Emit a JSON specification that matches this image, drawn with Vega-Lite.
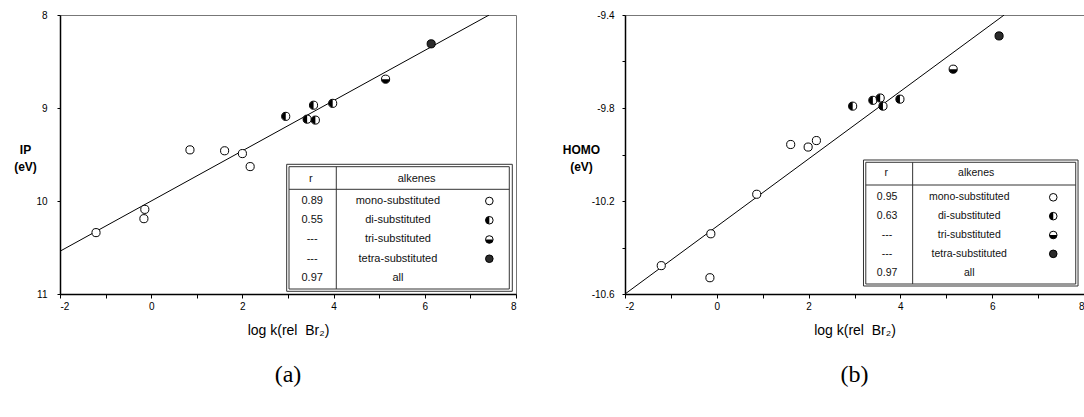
{
  "$schema": "https://vega.github.io/schema/vega-lite/v6.json",
  "padding": {"left": 13, "top": 9, "right": 0, "bottom": 0},
  "spacing": 109,
  "bounds": "flush",
  "config": {
    "view": {"stroke": "#777", "strokeWidth": 1},
    "font": "Liberation Sans",
    "axis": {"grid": false, "domainColor": "black", "domainWidth": 1.5, "tickColor": "black", "tickWidth": 1, "labelColor": "black", "labelFont": "Liberation Sans", "labelFontSize": 10, "titleFont": "Liberation Sans", "titleColor": "black"}
  },
  "hconcat": [
    {
      "width": 456,
      "height": 279,
      "title": {"text": "(a)", "orient": "bottom", "anchor": "middle", "font": "Liberation Serif", "fontSize": 24, "fontWeight": "normal", "color": "black", "offset": 26},
      "layer": [
        {
          "encoding": {
            "x": {"field": "x", "type": "quantitative", "scale": {"domain": [-2, 8], "nice": false, "zero": false},
              "axis": {"values": [-2, -1, 0, 1, 2, 3, 4, 5, 6, 7, 8], "format": "d", "labelExpr": "datum.value % 2 === 0 ? replace(datum.label, '\u2212', '-') : ''", "tickSize": 4, "labelPadding": 3, "title": "log k(rel\u00a0\u00a0Br\u2082)", "titleFontSize": 14, "titleFontWeight": "normal", "titlePadding": 12}},
            "y": {"field": "y", "type": "quantitative", "scale": {"domain": [8, 11], "reverse": true, "nice": false, "zero": false},
              "axis": {"values": [8, 8.5, 9, 9.5, 10, 10.5, 11], "format": "d", "labelExpr": "datum.value % 1 === 0 ? datum.label : ''", "tickSize": 3, "labelPadding": 10, "title": ["IP", "(eV)"], "titleAngle": 0, "titleAlign": "center", "titleBaseline": "middle", "titleX": -35, "titleY": 134, "titleFontSize": 12, "titleFontWeight": "bold", "titleLineHeight": 17}}
          },
          "layer": [
            {
              "data": {"values": [{"x": -2, "y": 10.54}, {"x": 7.41, "y": 8.0}]},
              "mark": {"type": "line", "color": "black", "strokeWidth": 1, "clip": true}
            },
            {
              "data": {"values": [
                {"x": -1.21, "y": 10.34, "cls": "mono"},
                {"x": -0.14, "y": 10.09, "cls": "mono"},
                {"x": -0.16, "y": 10.19, "cls": "mono"},
                {"x": 0.85, "y": 9.45, "cls": "mono"},
                {"x": 1.61, "y": 9.46, "cls": "mono"},
                {"x": 2.0, "y": 9.49, "cls": "mono"},
                {"x": 2.17, "y": 9.63, "cls": "mono"},
                {"x": 2.95, "y": 9.09, "cls": "di"},
                {"x": 3.42, "y": 9.12, "cls": "di"},
                {"x": 3.6, "y": 9.13, "cls": "di"},
                {"x": 3.56, "y": 8.97, "cls": "di"},
                {"x": 3.98, "y": 8.95, "cls": "di"},
                {"x": 5.14, "y": 8.69, "cls": "tri"},
                {"x": 6.14, "y": 8.31, "cls": "tetra"}
              ]},
              "layer": [
                {
                  "mark": {"type": "point", "shape": "circle", "filled": true, "stroke": "black", "strokeWidth": 1, "size": 66, "opacity": 1},
                  "encoding": {"fill": {"field": "cls", "type": "nominal", "scale": {"domain": ["mono", "di", "tri", "tetra"], "range": ["white", "white", "white", "#2b2b2b"]}, "legend": null}}
                },
                {
                  "transform": [{"filter": "datum.cls === 'di' || datum.cls === 'tri'"}],
                  "mark": {"type": "point", "filled": true, "color": "black", "strokeWidth": 0, "size": 66, "opacity": 1},
                  "encoding": {"shape": {"field": "cls", "type": "nominal", "scale": {"domain": ["di", "tri"], "range": ["M0,-1A1,1,0,0,0,0,1Z", "M-1,0A1,1,0,0,0,1,0Z"]}, "legend": null}}
                }
              ]
            }
          ]
        },
        {
          "data": {"values": [
            {"row": 1, "r": "0.89", "label": "mono-substituted", "cls": "mono"},
            {"row": 2, "r": "0.55", "label": "di-substituted", "cls": "di"},
            {"row": 3, "r": "---", "label": "tri-substituted", "cls": "tri"},
            {"row": 4, "r": "---", "label": "tetra-substituted", "cls": "tetra"},
            {"row": 5, "r": "0.97", "label": "all"}
          ]},
          "encoding": {
            "y": {"field": "row", "type": "quantitative", "scale": {"domain": [-8.6623, 5.8312], "reverse": true, "nice": false, "zero": false}, "axis": null}
          },
          "layer": [
            {
              "transform": [{"filter": "datum.row === 1"}],
              "mark": {"type": "rect", "fill": "white", "stroke": "#333", "strokeWidth": 1},
              "encoding": {
                "x": {"datum": 2.971, "type": "quantitative", "scale": {"domain": [-2, 8], "nice": false, "zero": false}, "axis": null},
                "x2": {"datum": 7.919},
                "y": {"datum": -0.9065, "type": "quantitative"},
                "y2": {"datum": 5.691}
              }
            },
            {
              "transform": [{"filter": "datum.row === 1"}],
              "mark": {"type": "rect", "fillOpacity": 0, "stroke": "#333", "strokeWidth": 1},
              "encoding": {
                "x": {"datum": 3.022, "type": "quantitative", "axis": null},
                "x2": {"datum": 7.853},
                "y": {"datum": -0.7818, "type": "quantitative"},
                "y2": {"datum": 5.572}
              }
            },
            {
              "transform": [{"filter": "datum.row === 1"}],
              "mark": {"type": "rule", "color": "#333", "strokeWidth": 1},
              "encoding": {
                "x": {"datum": 3.022, "type": "quantitative", "axis": null},
                "x2": {"datum": 7.853},
                "y": {"datum": 0.3922, "type": "quantitative"}
              }
            },
            {
              "transform": [{"filter": "datum.row === 1"}],
              "mark": {"type": "rule", "color": "#333", "strokeWidth": 1},
              "encoding": {
                "x": {"datum": 4.059, "type": "quantitative", "axis": null},
                "y": {"datum": -0.7818, "type": "quantitative"},
                "y2": {"datum": 5.572}
              }
            },
            {
              "transform": [{"filter": "datum.row === 1"}],
              "mark": {"type": "text", "text": "r", "fontSize": 11, "align": "center", "baseline": "middle", "color": "#111"},
              "encoding": {"x": {"datum": 3.5, "type": "quantitative", "axis": null}, "y": {"datum": -0.143, "type": "quantitative"}}
            },
            {
              "transform": [{"filter": "datum.row === 1"}],
              "mark": {"type": "text", "text": "alkenes", "fontSize": 11, "align": "center", "baseline": "middle", "color": "#111"},
              "encoding": {"x": {"datum": 5.82, "type": "quantitative", "axis": null}, "y": {"datum": -0.143, "type": "quantitative"}}
            },
            {
              "mark": {"type": "text", "fontSize": 11, "align": "center", "baseline": "middle", "color": "#111"},
              "encoding": {"x": {"datum": 3.53, "type": "quantitative", "axis": null}, "text": {"field": "r"}}
            },
            {
              "mark": {"type": "text", "fontSize": 11, "align": "center", "baseline": "middle", "color": "#111"},
              "encoding": {"x": {"datum": 5.41, "type": "quantitative", "axis": null}, "text": {"field": "label"}}
            },
            {
              "transform": [{"filter": "isValid(datum.cls)"}],
              "mark": {"type": "point", "shape": "circle", "filled": true, "stroke": "black", "strokeWidth": 1, "size": 58, "opacity": 1},
              "encoding": {"x": {"datum": 7.415, "type": "quantitative", "axis": null}, "fill": {"field": "cls", "type": "nominal", "legend": null}}
            },
            {
              "transform": [{"filter": "datum.cls === 'di' || datum.cls === 'tri'"}],
              "mark": {"type": "point", "filled": true, "color": "black", "strokeWidth": 0, "size": 58, "opacity": 1},
              "encoding": {"x": {"datum": 7.415, "type": "quantitative", "axis": null}, "shape": {"field": "cls", "type": "nominal", "legend": null}}
            }
          ]
        }
      ],
      "resolve": {"scale": {"y": "independent"}, "axis": {"x": "independent"}}
    },
    {
      "width": 459,
      "height": 279,
      "title": {"text": "(b)", "orient": "bottom", "anchor": "middle", "font": "Liberation Serif", "fontSize": 24, "fontWeight": "normal", "color": "black", "offset": 26},
      "layer": [
        {
          "encoding": {
            "x": {"field": "x", "type": "quantitative", "scale": {"domain": [-2, 8], "nice": false, "zero": false},
              "axis": {"values": [-2, -1, 0, 1, 2, 3, 4, 5, 6, 7, 8], "format": "d", "labelExpr": "datum.value % 2 === 0 ? replace(datum.label, '\u2212', '-') : ''", "tickSize": 4, "labelPadding": 3, "title": "log k(rel\u00a0\u00a0Br\u2082)", "titleFontSize": 14, "titleFontWeight": "normal", "titlePadding": 12}},
            "y": {"field": "y", "type": "quantitative", "scale": {"domain": [-10.6, -9.4], "nice": false, "zero": false},
              "axis": {"values": [-10.6, -10.4, -10.2, -10.0, -9.8, -9.6, -9.4], "format": ".1f", "labelExpr": "(round(datum.value * 10) + 106) % 4 === 0 ? replace(datum.label, '\u2212', '-') : ''", "tickSize": 3, "labelPadding": 8, "title": ["HOMO", "(eV)"], "titleAngle": 0, "titleAlign": "center", "titleBaseline": "middle", "titleX": -44, "titleY": 134, "titleFontSize": 12, "titleFontWeight": "bold", "titleLineHeight": 17}}
          },
          "layer": [
            {
              "data": {"values": [{"x": -2, "y": -10.6}, {"x": 6.26, "y": -9.4}]},
              "mark": {"type": "line", "color": "black", "strokeWidth": 1, "clip": true}
            },
            {
              "data": {"values": [
                {"x": -1.21, "y": -10.478, "cls": "mono"},
                {"x": -0.13, "y": -10.341, "cls": "mono"},
                {"x": -0.15, "y": -10.53, "cls": "mono"},
                {"x": 0.87, "y": -10.171, "cls": "mono"},
                {"x": 1.61, "y": -9.957, "cls": "mono"},
                {"x": 1.99, "y": -9.968, "cls": "mono"},
                {"x": 2.17, "y": -9.94, "cls": "mono"},
                {"x": 2.96, "y": -9.792, "cls": "di"},
                {"x": 3.4, "y": -9.767, "cls": "di"},
                {"x": 3.56, "y": -9.757, "cls": "di"},
                {"x": 3.62, "y": -9.792, "cls": "di"},
                {"x": 3.99, "y": -9.762, "cls": "di"},
                {"x": 5.15, "y": -9.633, "cls": "tri"},
                {"x": 6.15, "y": -9.49, "cls": "tetra"}
              ]},
              "layer": [
                {
                  "mark": {"type": "point", "shape": "circle", "filled": true, "stroke": "black", "strokeWidth": 1, "size": 66, "opacity": 1},
                  "encoding": {"fill": {"field": "cls", "type": "nominal", "scale": {"domain": ["mono", "di", "tri", "tetra"], "range": ["white", "white", "white", "#1a1a1a"]}, "legend": null}}
                },
                {
                  "transform": [{"filter": "datum.cls === 'di' || datum.cls === 'tri'"}],
                  "mark": {"type": "point", "filled": true, "color": "black", "strokeWidth": 0, "size": 66, "opacity": 1},
                  "encoding": {"shape": {"field": "cls", "type": "nominal", "scale": {"domain": ["di", "tri"], "range": ["M0,-1A1,1,0,0,0,0,1Z", "M-1,0A1,1,0,0,0,1,0Z"]}, "legend": null}}
                }
              ]
            }
          ]
        },
        {
          "data": {"values": [
            {"row": 1, "r": "0.95", "label": "mono-substituted", "cls": "mono"},
            {"row": 2, "r": "0.63", "label": "di-substituted", "cls": "di"},
            {"row": 3, "r": "---", "label": "tri-substituted", "cls": "tri"},
            {"row": 4, "r": "---", "label": "tetra-substituted", "cls": "tetra"},
            {"row": 5, "r": "0.97", "label": "all"}
          ]},
          "encoding": {
            "y": {"field": "row", "type": "quantitative", "scale": {"domain": [-8.671, 6.13], "reverse": true, "nice": false, "zero": false}, "axis": null}
          },
          "layer": [
            {
              "transform": [{"filter": "datum.row === 1"}],
              "mark": {"type": "rect", "fill": "white", "stroke": "#333", "strokeWidth": 1},
              "encoding": {
                "x": {"datum": 3.196, "type": "quantitative", "scale": {"domain": [-2, 8], "nice": false, "zero": false}, "axis": null},
                "x2": {"datum": 7.87},
                "y": {"datum": -0.979, "type": "quantitative"},
                "y2": {"datum": 5.706}
              }
            },
            {
              "transform": [{"filter": "datum.row === 1"}],
              "mark": {"type": "rect", "fillOpacity": 0, "stroke": "#333", "strokeWidth": 1},
              "encoding": {
                "x": {"datum": 3.246, "type": "quantitative", "axis": null},
                "x2": {"datum": 7.82},
                "y": {"datum": -0.857, "type": "quantitative"},
                "y2": {"datum": 5.6}
              }
            },
            {
              "transform": [{"filter": "datum.row === 1"}],
              "mark": {"type": "rule", "color": "#333", "strokeWidth": 1},
              "encoding": {
                "x": {"datum": 3.246, "type": "quantitative", "axis": null},
                "x2": {"datum": 7.82},
                "y": {"datum": 0.348, "type": "quantitative"}
              }
            },
            {
              "transform": [{"filter": "datum.row === 1"}],
              "mark": {"type": "rule", "color": "#333", "strokeWidth": 1},
              "encoding": {
                "x": {"datum": 4.267, "type": "quantitative", "axis": null},
                "y": {"datum": -0.857, "type": "quantitative"},
                "y2": {"datum": 5.6}
              }
            },
            {
              "transform": [{"filter": "datum.row === 1"}],
              "mark": {"type": "text", "text": "r", "fontSize": 10.5, "align": "center", "baseline": "middle", "color": "#111"},
              "encoding": {"x": {"datum": 3.69, "type": "quantitative", "axis": null}, "y": {"datum": -0.273, "type": "quantitative"}}
            },
            {
              "transform": [{"filter": "datum.row === 1"}],
              "mark": {"type": "text", "text": "alkenes", "fontSize": 10.5, "align": "center", "baseline": "middle", "color": "#111"},
              "encoding": {"x": {"datum": 5.65, "type": "quantitative", "axis": null}, "y": {"datum": -0.273, "type": "quantitative"}}
            },
            {
              "mark": {"type": "text", "fontSize": 10.5, "align": "center", "baseline": "middle", "color": "#111"},
              "encoding": {"x": {"datum": 3.71, "type": "quantitative", "axis": null}, "text": {"field": "r"}}
            },
            {
              "mark": {"type": "text", "fontSize": 10.5, "align": "center", "baseline": "middle", "color": "#111"},
              "encoding": {"x": {"datum": 5.5, "type": "quantitative", "axis": null}, "text": {"field": "label"}}
            },
            {
              "transform": [{"filter": "isValid(datum.cls)"}],
              "mark": {"type": "point", "shape": "circle", "filled": true, "stroke": "black", "strokeWidth": 1, "size": 58, "opacity": 1},
              "encoding": {"x": {"datum": 7.33, "type": "quantitative", "axis": null}, "fill": {"field": "cls", "type": "nominal", "legend": null}}
            },
            {
              "transform": [{"filter": "datum.cls === 'di' || datum.cls === 'tri'"}],
              "mark": {"type": "point", "filled": true, "color": "black", "strokeWidth": 0, "size": 58, "opacity": 1},
              "encoding": {"x": {"datum": 7.33, "type": "quantitative", "axis": null}, "shape": {"field": "cls", "type": "nominal", "legend": null}}
            }
          ]
        }
      ],
      "resolve": {"scale": {"y": "independent"}, "axis": {"x": "independent"}}
    }
  ]
}
